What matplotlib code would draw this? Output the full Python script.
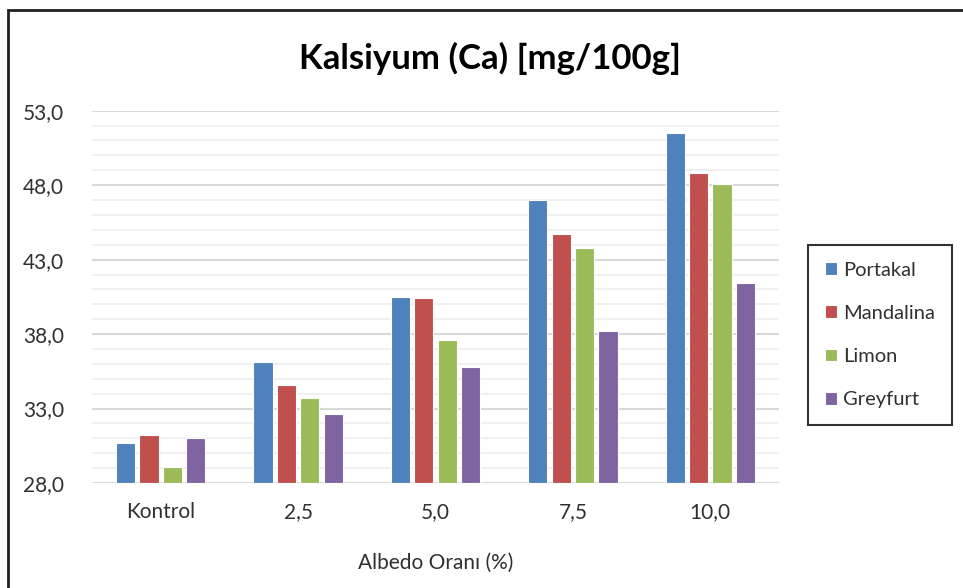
import numpy as np
import matplotlib.pyplot as plt
from matplotlib.patches import Rectangle
from matplotlib.ticker import FixedLocator, FuncFormatter

# Data
categories = ['Kontrol', '2,5', '5,0', '7,5', '10,0']
series_names = ['Portakal', 'Mandalina', 'Limon', 'Greyfurt']
portakal = [30.7, 36.1, 40.5, 47.0, 51.5]
mandalina = [31.2, 34.6, 40.4, 44.7, 48.8]
limon = [29.1, 33.7, 37.6, 43.8, 48.1]
greyfurt = [31.0, 32.6, 35.8, 38.2, 41.4]
colors = ['#4F81BD', '#C0504D', '#9BBB59', '#8064A2']

plt.rcParams['font.family'] = ['Lato', 'DejaVu Sans']

fig = plt.figure(figsize=(9.63, 5.88), dpi=100)
W, H = 963, 588
ax = fig.add_axes([92 / W, 1 - 483 / H, (779 - 92) / W, (483 - 110.7) / H])

x = np.arange(len(categories))
width = 0.14
step = 0.17
for i, (vals, name) in enumerate(zip([portakal, mandalina, limon, greyfurt], series_names)):
    ax.bar(x + (i - 1.5) * step, np.array(vals) - 28, bottom=28, width=width,
           color=colors[i], edgecolor='white', linewidth=0.8, label=name, zorder=3)

ax.set_xlim(-0.5, len(categories) - 0.5)
ax.set_ylim(28, 53)
ax.yaxis.set_major_locator(FixedLocator(np.arange(28, 54, 5)))
ax.yaxis.set_minor_locator(FixedLocator(np.arange(28, 54, 1)))
ax.yaxis.set_major_formatter(FuncFormatter(lambda v, p: f'{v:.1f}'.replace('.', ',')))
ax.grid(axis='y', which='major', color='#d9d9d9', linewidth=1.5, zorder=0)
ax.grid(axis='y', which='minor', color='#f0f0f0', linewidth=1.5, zorder=0)
for s in ax.spines.values():
    s.set_visible(False)
ax.tick_params(axis='both', which='both', length=0, labelsize=15, colors='#303030')
ax.tick_params(axis='y', pad=20)
ax.tick_params(axis='x', pad=14)
ax.set_xticks(x)
ax.set_xticklabels(categories)
ax.set_xlabel('Albedo Oranı (%)', fontsize=15, color='#303030', labelpad=22)

fig.text(490 / W, 1 - 58 / H, 'Kalsiyum (Ca) [mg/100g]', ha='center', va='center',
         fontsize=25, fontweight='bold', color='black')

leg = fig.legend(loc='center left', bbox_to_anchor=(808 / W, 1 - 335 / H), frameon=True,
                 fontsize=14.5, handlelength=0.6, handleheight=0.6, handletextpad=0.3,
                 labelspacing=1.3, borderpad=0.85, borderaxespad=0, fancybox=False,
                 labelcolor='#303030')
leg.get_frame().set_edgecolor('black')
leg.get_frame().set_linewidth(1.5)

# outer chart border
fig.add_artist(Rectangle((8 / W, -0.1), 1.2, 1 - 10 / H + 0.1, transform=fig.transFigure,
                         fill=False, edgecolor='#202020', linewidth=2))

fig.savefig('out.png', dpi=100)
